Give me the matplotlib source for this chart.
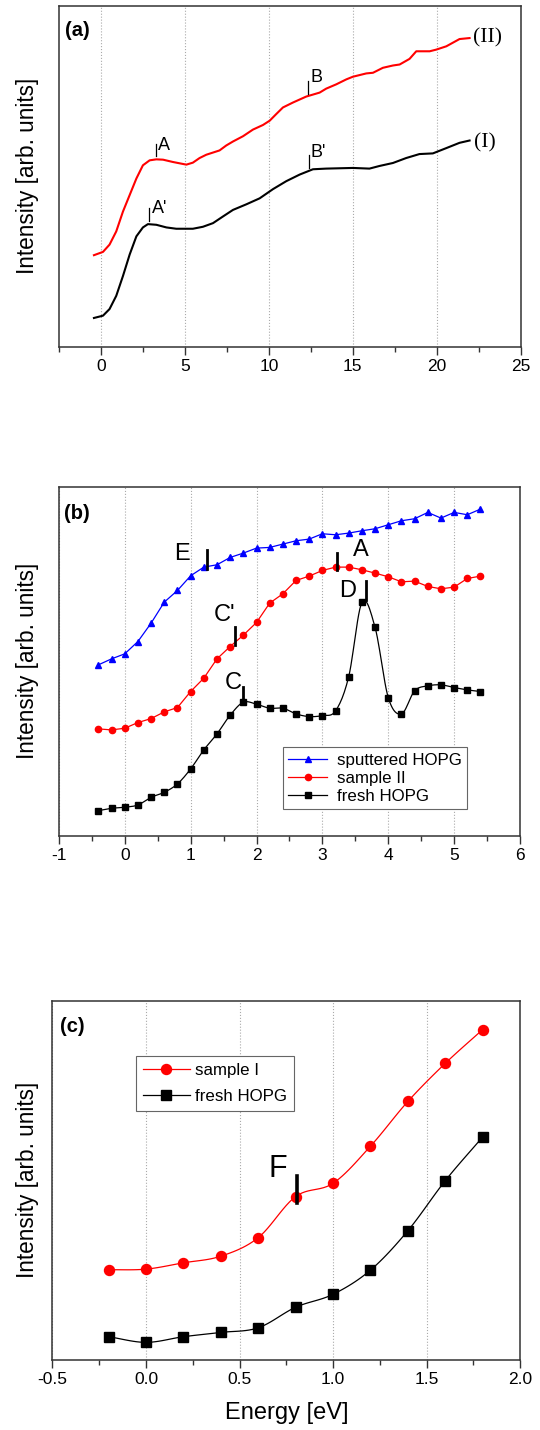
import numpy as np
import matplotlib
matplotlib.use("Agg")
import matplotlib.pyplot as plt

plt.rcParams['font.family'] = ['Liberation Sans', 'DejaVu Sans']
plt.rcParams['axes.unicode_minus'] = False

# ---------------- panel (a) : continuous spectra ----------------
a_x_II = [-0.44, 0.10, 0.49, 0.89, 1.29, 1.69, 2.09, 2.48, 2.88, 3.28, 3.68, 4.27, 5.07,
          5.46, 5.86, 6.26, 7.05, 7.45, 7.85, 8.45, 9.04, 9.64, 10.04, 10.43, 10.83,
          11.43, 12.22, 13.02, 13.41, 14.01, 14.61, 15.00, 15.80, 16.20, 16.79, 17.39,
          17.79, 18.38, 18.78, 19.58, 19.97, 20.57, 21.36, 21.96]
a_y_II = [27.8, 28.8, 31.0, 35.0, 41.0, 46.0, 51.0, 55.0, 56.5, 56.8, 56.7, 56.0, 55.2,
          55.8, 57.2, 58.2, 59.5, 61.0, 62.2, 63.8, 65.8, 67.2, 68.5, 70.5, 72.5,
          74.0, 75.8, 77.0, 78.2, 79.5, 81.0, 81.8, 82.8, 83.0, 84.5, 85.2,
          85.5, 87.2, 89.5, 89.5, 90.0, 91.0, 93.2, 93.5]

a_x_I = [-0.44, 0.10, 0.49, 0.89, 1.29, 1.69, 2.09, 2.48, 2.78, 3.28, 3.88, 4.47, 5.46,
         6.06, 6.66, 7.25, 7.85, 8.65, 9.44, 10.24, 11.03, 11.83, 12.62, 13.41, 15.00,
         15.99, 16.59, 17.39, 18.18, 18.97, 19.77, 20.57, 21.36, 21.96]
a_y_I = [8.8, 9.5, 11.5, 15.5, 21.5, 28.0, 33.5, 36.2, 37.2, 37.0, 36.2, 35.8, 35.8,
         36.4, 37.5, 39.5, 41.5, 43.2, 45.0, 47.8, 50.2, 52.2, 53.8, 54.0, 54.2,
         54.0, 54.8, 55.7, 57.2, 58.4, 58.6, 60.2, 61.8, 62.5]

# label, tick x, tick y0, tick y1, text x, text y
a_marks = [("A", 3.24, 57.8, 61.5, 3.40, 61.0),
           ("A'", 2.85, 38.2, 42.2, 3.00, 41.8),
           ("B", 12.32, 76.5, 80.5, 12.50, 81.5),
           ("B'", 12.38, 54.2, 58.2, 12.50, 59.0)]
a_curve_names = [("(II)", 22.15, 93.5), ("(I)", 22.25, 61.8)]

# ---------------- panel (b) ----------------
b_x = [-0.4, -0.2, 0.0, 0.2, 0.4, 0.6, 0.8, 1.0, 1.2, 1.4, 1.6, 1.8, 2.0, 2.2, 2.4,
       2.6, 2.8, 3.0, 3.2, 3.4, 3.6, 3.8, 4.0, 4.2, 4.4, 4.6, 4.8, 5.0, 5.2, 5.4]
b_sputtered = [51.3, 53.1, 54.6, 58.3, 63.8, 70.1, 73.6, 78.0, 80.6, 81.3, 83.5, 84.8,
               86.3, 86.5, 87.5, 88.5, 89.0, 90.6, 90.3, 90.8, 91.5, 92.1, 93.3, 94.5,
               95.1, 97.0, 95.3, 97.0, 96.3, 98.0]
b_sample2 = [32.1, 31.8, 32.3, 34.0, 35.2, 37.2, 38.5, 43.3, 47.3, 53.1, 56.8, 60.2,
             64.0, 69.8, 72.6, 76.6, 77.9, 79.6, 80.6, 80.6, 79.8, 78.8, 77.7, 76.2,
             76.4, 74.8, 74.1, 74.6, 77.2, 77.9]
b_fresh = [7.6, 8.3, 8.6, 9.3, 11.6, 13.1, 15.6, 20.1, 25.8, 30.6, 36.2, 40.1,
           39.5, 38.3, 38.3, 36.6, 35.8, 36.1, 37.5, 47.8, 70.0, 62.5, 41.5, 36.6,
           43.5, 45.0, 45.3, 44.5, 43.8, 43.3]
b_marks = [("E", 1.25, 80.0, 85.6, 0.875, 84.6),
           ("A", 3.22, 79.6, 84.8, 3.59, 85.6),
           ("D", 3.66, 70.8, 76.3, 3.39, 73.5),
           ("C'", 1.68, 57.3, 62.5, 1.51, 66.3),
           ("C", 1.80, 40.3, 44.6, 1.64, 46.0)]

# ---------------- panel (c) ----------------
c_x = [-0.2, 0.0, 0.2, 0.4, 0.6, 0.8, 1.0, 1.2, 1.4, 1.6, 1.8]
c_sample1 = [27.2, 27.4, 29.3, 31.3, 36.9, 49.3, 53.3, 64.5, 78.0, 89.5, 99.7]
c_fresh = [7.0, 5.3, 7.0, 8.3, 9.7, 15.9, 19.8, 27.1, 39.0, 54.1, 67.3]
c_marks = [("F", 0.805, 47.5, 55.5, 0.706, 57.7)]


def smooth(x, y, n=12):
    # catmull-rom curve through the measured points (only for the connecting line)
    x = np.asarray(x, float)
    y = np.asarray(y, float)
    px = np.concatenate([[2 * x[0] - x[1]], x, [2 * x[-1] - x[-2]]])
    py = np.concatenate([[2 * y[0] - y[1]], y, [2 * y[-1] - y[-2]]])
    xs, ys = [], []
    t = np.linspace(0, 1, n, endpoint=False)
    for i in range(1, len(px) - 2):
        for p, out in ((px, xs), (py, ys)):
            p0, p1, p2, p3 = p[i - 1], p[i], p[i + 1], p[i + 2]
            out.append(0.5 * (2 * p1 + (-p0 + p2) * t
                              + (2 * p0 - 5 * p1 + 4 * p2 - p3) * t ** 2
                              + (-p0 + 3 * p1 - 3 * p2 + p3) * t ** 3))
    xs.append([x[-1]])
    ys.append([y[-1]])
    return np.concatenate(xs), np.concatenate(ys)


def style_axes(ax, major, minor):
    ax.set_yticks([])
    ax.xaxis.set_major_locator(matplotlib.ticker.MultipleLocator(major))
    ax.xaxis.set_minor_locator(matplotlib.ticker.MultipleLocator(minor))
    ax.tick_params(axis="x", which="major", direction="out", length=6, width=1,
                   labelsize=12.5, pad=2.5, color="#333333")
    ax.tick_params(axis="x", which="minor", direction="out", length=3.5, width=1,
                   color="#333333")
    ax.grid(True, axis="x", which="major", linestyle=":", color="#aaaaaa", linewidth=0.8)
    for s in ax.spines.values():
        s.set_color("#333333")
        s.set_linewidth(1.1)


fig = plt.figure(figsize=(5.4, 14.3), dpi=100)

# ---- (a)
ax = fig.add_axes([0.110, 0.7573, 0.854, 0.2385])
ax.plot(a_x_II, a_y_II, color="#ff0000", lw=1.5)
ax.plot(a_x_I, a_y_I, color="black", lw=1.5)
for lab, tx, y0, y1, lx, ly in a_marks:
    ax.plot([tx, tx], [y0, y1], color="black", lw=0.9)
    ax.text(lx, ly, lab, fontsize=13, ha="left", va="center")
for lab, lx, ly in a_curve_names:
    ax.text(lx, ly, lab, fontsize=15.5, family="Liberation Serif", ha="left", va="center")
ax.set_xlim(-2.5, 25)
ax.set_ylim(0, 103.2)
style_axes(ax, 5, 2.5)
ax.text(0.012, 0.927, "(a)", transform=ax.transAxes, fontsize=14.5, fontweight="bold",
        ha="left", va="center")

# ---- (b)
ax = fig.add_axes([0.109, 0.4154, 0.854, 0.2440])
ax.plot(b_x, b_sputtered, color="#0000ff", lw=0.9, marker="^", ms=5,
        label="sputtered HOPG")
ax.plot(b_x, b_sample2, color="#ff0000", lw=0.9, marker="o", ms=4.5,
        label="sample II")
sx, sy = smooth(b_x, b_fresh)
ax.plot(sx, sy, color="black", lw=0.9)
ax.plot(b_x, b_fresh, color="black", lw=0, marker="s", ms=4.3)
ax.plot([], [], color="black", lw=0.9, marker="s", ms=4.3, label="fresh HOPG")
for lab, tx, y0, y1, lx, ly in b_marks:
    ax.plot([tx, tx], [y0, y1], color="black", lw=2)
    ax.text(lx, ly, lab, fontsize=17, ha="center", va="center")
ax.set_xlim(-1, 6)
ax.set_ylim(0, 104.6)
style_axes(ax, 1, 0.5)
ax.text(0.012, 0.925, "(b)", transform=ax.transAxes, fontsize=14.5, fontweight="bold",
        ha="left", va="center")
leg = ax.legend(loc="lower right", bbox_to_anchor=(0.904, 0.052), fontsize=12.2,
                fancybox=False, framealpha=1, edgecolor="#666666", handlelength=2.3,
                labelspacing=0.2, borderpad=0.3, handletextpad=0.6, numpoints=1)
leg.get_frame().set_linewidth(0.8)

# ---- (c)
ax = fig.add_axes([0.0972, 0.0490, 0.866, 0.2510])
sx, sy = smooth(c_x, c_sample1)
ax.plot(sx, sy, color="#ff0000", lw=0.9)
ax.plot(c_x, c_sample1, color="#ff0000", lw=0, marker="o", ms=7.2)
sx, sy = smooth(c_x, c_fresh)
ax.plot(sx, sy, color="black", lw=0.9)
ax.plot(c_x, c_fresh, color="black", lw=0, marker="s", ms=6.5)
ax.plot([], [], color="#ff0000", lw=0.9, marker="o", ms=7.2, label="sample I")
ax.plot([], [], color="black", lw=0.9, marker="s", ms=6.5, label="fresh HOPG")
for lab, tx, y0, y1, lx, ly in c_marks:
    ax.plot([tx, tx], [y0, y1], color="black", lw=2.6)
    ax.text(lx, ly, lab, fontsize=22, ha="center", va="center")
ax.set_xlim(-0.5, 2.0)
ax.set_ylim(0, 108.3)
style_axes(ax, 0.5, 0.25)
ax.xaxis.set_major_formatter(matplotlib.ticker.FormatStrFormatter("%.1f"))
ax.text(0.016, 0.928, "(c)", transform=ax.transAxes, fontsize=14.5, fontweight="bold",
        ha="left", va="center")
leg = ax.legend(loc="upper left", bbox_to_anchor=(0.160, 0.871), fontsize=12.2,
                fancybox=False, framealpha=1, edgecolor="#666666", handlelength=2.8,
                labelspacing=0.7, borderpad=0.4, handletextpad=0.3, numpoints=1)
leg.get_frame().set_linewidth(0.8)
ax.set_xlabel("Energy [eV]", fontsize=17, labelpad=11)

for yc in (176, 661, 1180):
    fig.text(28 / 540, 1 - yc / 1430, "Intensity [arb. units]", rotation=90,
             fontsize=16.3, ha="center", va="center")

fig.savefig("out.png", dpi=100)
